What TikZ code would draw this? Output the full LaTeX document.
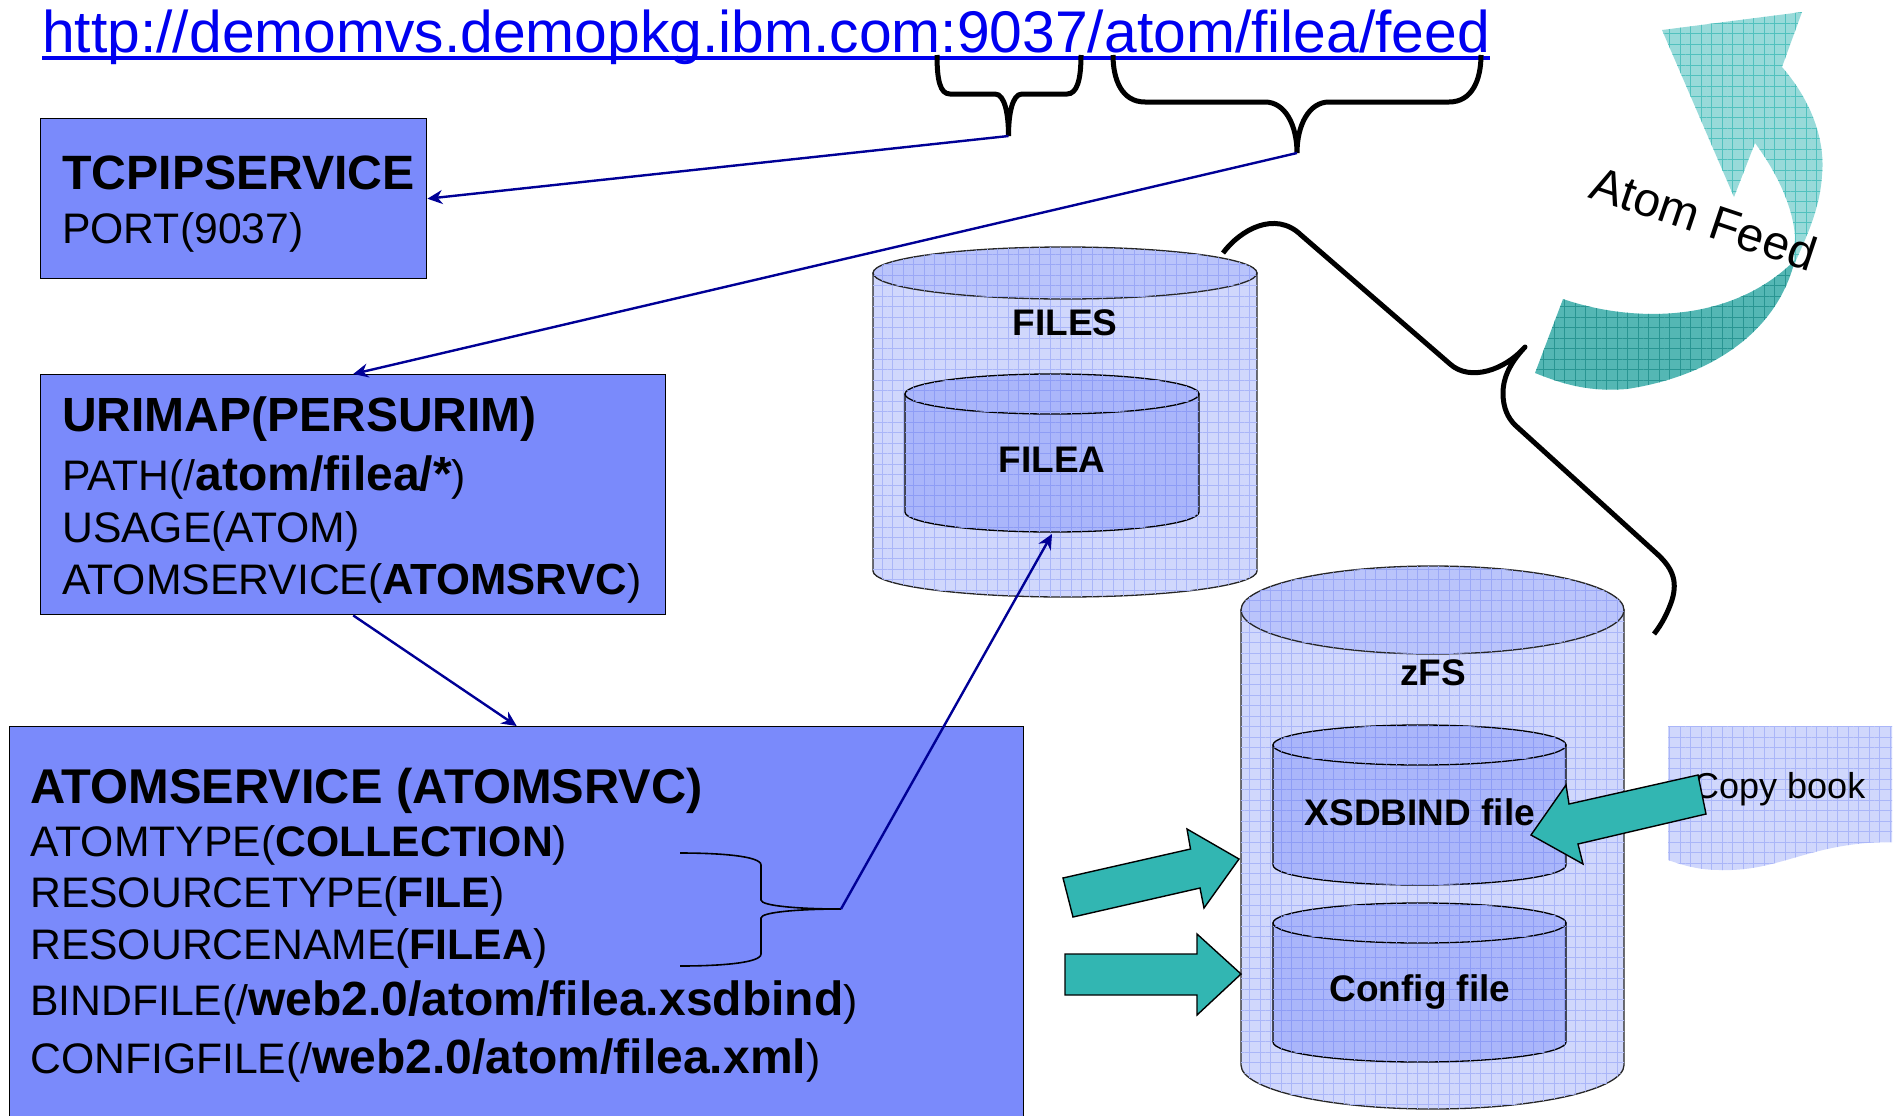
\documentclass[tikz,border=0pt]{standalone}
\usepackage{fontspec}
\setmainfont{Liberation Sans}
\usetikzlibrary{arrows.meta,patterns.meta}
\definecolor{boxblue}{RGB}{122,138,251}
\definecolor{linkblue}{RGB}{0,0,240}
\definecolor{arrowblue}{RGB}{0,0,150}
\definecolor{teal1}{RGB}{50,182,178}
\definecolor{paleblue}{RGB}{208,215,252}
\definecolor{palegrid}{RGB}{170,182,248}
\definecolor{lidblue}{RGB}{186,196,251}
\definecolor{lidgrid}{RGB}{155,168,246}
\definecolor{midblue}{RGB}{170,182,250}
\definecolor{midgrid}{RGB}{142,157,245}
\newcommand\fs[1]{\fontsize{#1bp}{#1bp}\selectfont}
\tikzset{
	gridfill/.style 2 args={fill=#1,
		postaction={pattern={Lines[angle=0,distance=10.5bp,line width=.9bp]},pattern color=#2},
		postaction={pattern={Lines[angle=90,distance=10.5bp,line width=.9bp]},pattern color=#2}},
	bluebox/.style={draw=black,line width=1.4bp,fill=boxblue,anchor=north west,inner sep=0pt},
	textline/.style={anchor=base west,inner sep=0pt,font=\fs{42.7}},
	drumlabel/.style={inner sep=0pt,font=\fs{37}\bfseries},
	outerdrum/.style={draw=black!85,line width=1.3bp,gridfill={paleblue}{palegrid}},
	outerlid/.style={draw=black!85,line width=1.3bp,gridfill={lidblue}{lidgrid}},
	innerdrum/.style={draw=black,line width=1.3bp,gridfill={midblue}{midgrid}},
	link/.style={draw=arrowblue,line width=2.4bp,-{Stealth[length=15bp,width=14bp]}},
	brace/.style={draw=black,line width=5bp},
	bigarrow/.style={draw=black,line width=1.4bp,fill=teal1,line join=miter}
}
% body first, then the lid
\newcommand\drum[7]{
	\pgfmathsetmacro\rx{(#2-#1)/2}
	\pgfmathsetmacro\xc{(#2+#1)/2}
	\path[#6] (#1,#3) -- (#1,#4) arc[start angle=180,end angle=360,x radius=\rx bp,y radius=#5 bp] -- (#2,#3) -- cycle;
	\path[#7] (\xc,#3) ellipse[x radius=\rx bp,y radius=#5 bp];
}
\begin{document}
\begin{tikzpicture}[x=1bp,y=-1bp]
	\useasboundingbox (0,0) rectangle (1902,1115);
	\path
	(1008.5,136) coordinate (porttip)
	(1297,153) coordinate (pathtip)
	(841,909) coordinate (listtip)
	(1052,534) coordinate (fileafoot)
	;
	% blue boxes
	\node[bluebox,minimum width=386bp,minimum height=160bp] (tcpip) at (40,118) {};
	\node[bluebox,minimum width=625bp,minimum height=240bp] (urimap) at (40,374) {};
	\node[bluebox,minimum width=1014bp,minimum height=420bp] (atomservice) at (9,726) {};
	\foreach \n/\x/\y/\t in {
		tcpiphead/62/189/{\fs{48.2}\bfseries TCPIPSERVICE},
		tcpipport/62/243/{PORT(9037)},
		urihead/62/431/{\fs{48}\bfseries URIMAP(PERSURIM)},
		uripath/62/490/{PATH(/\textbf{\fs{48}atom/filea/*})},
		uriusage/62/542/{USAGE(ATOM)},
		uriservice/62/594/{ATOMSERVICE(\textbf{\fs{43.6}ATOMSRVC})},
		atomhead/30/803/{\fs{48.8}\bfseries ATOMSERVICE (ATOMSRVC)},
		atomtype/30/856/{ATOMTYPE(\textbf{COLLECTION})},
		atomres/30/907/{RESOURCETYPE(\textbf{FILE})},
		atomname/30/959/{RESOURCENAME(\textbf{FILEA})},
		atombind/30/1015/{BINDFILE(/\textbf{\fs{48}web2.0/atom/filea.xsdbind})},
		atomconf/30/1073/{CONFIGFILE(/\textbf{\fs{48}web2.0/atom/filea.xml})}}
	\node[textline] (\n) at (\x,\y) {\t};
	% url
	\node[anchor=base west,inner sep=0pt,text=linkblue,font=\fs{58.8}] (url) at (42,52) {http://demomvs.demopkg.ibm.com:9037/atom/filea/feed};
	\draw[linkblue,line width=3.5bp] ([yshift=-6bp]url.base west) -- ([yshift=-6bp]url.base east);
	% drums
	\drum{873}{1257}{273}{571}{26}{outerdrum}{outerlid}
	\drum{905}{1199}{394}{512}{20}{innerdrum}{innerdrum}
	\drum{1241}{1624}{610}{1065}{44}{outerdrum}{outerlid}
	\drum{1273}{1566}{745}{865}{20}{innerdrum}{innerdrum}
	\drum{1273}{1566}{923}{1042}{20}{innerdrum}{innerdrum}
	\foreach \n/\x/\y/\t in {filesname/1065/323/FILES,fileaname/1052/460/FILEA,zfsname/1433/673/zFS,
		xsdname/1420/812/XSDBIND file,confname/1420/992/Config file}
	\node[drumlabel] (\n) at (\x,\y) {\t};
	% copy book
	\path[gridfill={paleblue}{palegrid}] (1668,726) -- (1892,726) -- (1892,842)
	.. controls (1810,842) and (1780,872) .. (1720,870) .. controls (1700,870) and (1685,866) .. (1668,860) -- cycle;
	\node[inner sep=0pt,font=\fs{36},anchor=base west] (copytext) at (1693,798) {Copy book};
	% block arrows
	\draw[bigarrow] (1063,878) -- (1190.5,849) -- (1187,829) -- (1239,859) -- (1204,908) -- (1200,888) -- (1073,917) -- cycle;
	\draw[bigarrow] (1065,954) -- (1197,954) -- (1197,934) -- (1241,974) -- (1197,1015) -- (1197,995) -- (1065,995) -- cycle;
	\draw[bigarrow] (1698,775) -- (1569,804) -- (1566,785) -- (1531,835) -- (1583,864) -- (1578,844) -- (1706,814) -- cycle;
	% atom feed arrow
	\path[gridfill={teal1!50!white}{teal1!85!white}] (1662,30) -- (1802,12) -- (1782,67)
	.. controls (1815,105) and (1825,145) .. (1822,175) .. controls (1820,210) and (1805,240) .. (1793,267)
	-- (1795,237) .. controls (1793,205) and (1775,170) .. (1755,143) -- (1734,197) -- cycle;
	\path[gridfill={teal1!92!black!82!white}{teal1!82!black}] (1563,299)
	.. controls (1630,322) and (1730,325) .. (1795,260)
	.. controls (1775,340) and (1700,378) .. (1627,389)
	.. controls (1590,392) and (1565,385) .. (1535,373) -- cycle;
	\node[inner sep=0pt,rotate=-18.5,font=\fs{48}] (feedtext) at (1704,218) {Atom Feed};
	% braces
	\draw[brace] (937,55) .. controls (937,80) and (940,94) .. (950,94) -- (995,94)
	.. controls (1005,94) and (1008.5,115) .. (1008.5,136)
	.. controls (1008.5,115) and (1012,94) .. (1022,94) -- (1067,94)
	.. controls (1077,94) and (1081,80) .. (1081,55);
	\draw[brace] (1113,55) .. controls (1113,80) and (1122,102) .. (1145,102) -- (1265,102)
	.. controls (1285,102) and (1297,125) .. (1297,153)
	.. controls (1297,125) and (1309,102) .. (1329,102) -- (1449,102)
	.. controls (1472,102) and (1481,80) .. (1481,55);
	\draw[brace,line join=round] (1223,253) .. controls (1240,230) and (1275,210) .. (1301,235) -- (1450,364)
	.. controls (1470,382) and (1505,370) .. (1525,347)
	.. controls (1508,365) and (1503,380) .. (1503,393)
	.. controls (1503,408) and (1508,418) .. (1515,425) -- (1655,552)
	.. controls (1672,567) and (1678,580) .. (1672,600) .. controls (1668,612) and (1662,624) .. (1654,634);
	\draw[draw=black,line width=1.6bp] (680,853) .. controls (720,853) and (761,856) .. (761,865) -- (761,900)
	.. controls (761,906) and (800,909) .. (841,909)
	.. controls (800,909) and (761,912) .. (761,918) -- (761,954)
	.. controls (761,963) and (720,966) .. (680,966);
	% links
	\draw[link] (porttip) -- (tcpip.east);
	\draw[link] (pathtip) -- (urimap.north);
	\draw[link] (urimap.south) -- (atomservice.north);
	\draw[link] (listtip) -- (fileafoot);
\end{tikzpicture}
\end{document}
